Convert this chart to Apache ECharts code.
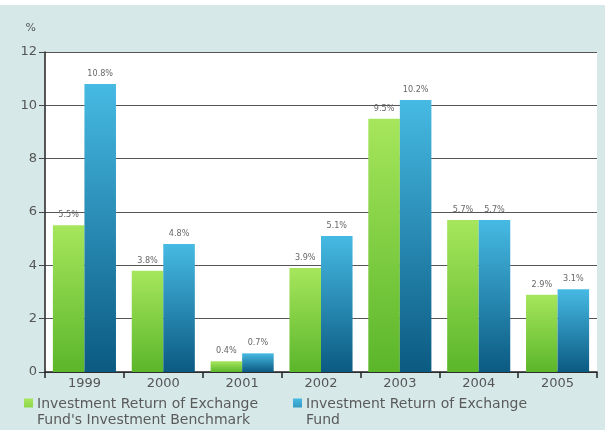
<!DOCTYPE html>
<html><head><meta charset="utf-8">
<script src="https://cdn.jsdelivr.net/npm/echarts@6/dist/echarts.min.js"></script>
<style>html,body{margin:0;padding:0;background:#d6e9e8;}#c{width:605px;height:430px;}</style>
</head><body><div id="c"></div>
<script>
const categories = ['1999','2000','2001','2002','2003','2004','2005'];
const benchmark = [5.5, 3.8, 0.4, 3.9, 9.5, 5.7, 2.9];
const fund = [10.8, 4.8, 0.7, 5.1, 10.2, 5.7, 3.1];
const benchmarkName = "Investment Return of Exchange\nFund's Investment Benchmark";
const fundName = "Investment Return of Exchange\nFund";

const chart = echarts.init(document.getElementById('c'));
const grad = (a, b) => new echarts.graphic.LinearGradient(0, 0, 0, 1, [{offset:0, color:a},{offset:1, color:b}]);
const labelCfg = {show:true, position:'top', distance:6, color:'#666', fontSize:9, fontFamily:'DejaVu Sans Condensed, Liberation Sans Narrow, sans-serif', formatter: p => p.value + '%'};
const legendIcon = 'path://M0,0L10,0L10,10L0,10Z M0,30';
chart.setOption({
  backgroundColor:'#d6e9e8',
  textStyle:{fontFamily:'DejaVu Sans, sans-serif'},
  graphic:[{type:'rect', shape:{x:0,y:0,width:605,height:5}, style:{fill:'#ffffff'}}],
  grid:{left:45, right:8, top:52, bottom:58, show:true, backgroundColor:'#ffffff', borderWidth:0},
  legend:{
    left:19, top:391, itemWidth:9, itemHeight:27, itemGap:35, symbolKeepAspect:true,
    textStyle:{color:'#5a5a5a', fontSize:14, lineHeight:16, padding:[0,0,0,-1]},
    data:[{name:benchmarkName, icon:legendIcon}, {name:fundName, icon:legendIcon}]
  },
  xAxis:{
    type:'category', data:categories,
    axisLine:{lineStyle:{color:'#222', width:1.5}},
    axisTick:{show:true, length:6, lineStyle:{color:'#222', width:1.5}},
    axisLabel:{color:'#555', fontSize:13, margin:5}
  },
  yAxis:{
    type:'value', min:0, max:12, interval:2,
    name:'%', nameGap:18, nameTextStyle:{color:'#555', fontSize:11, align:'right', padding:[0,9,0,0]},
    axisLine:{show:true, lineStyle:{color:'#222', width:1.5}},
    axisTick:{show:true, length:6, lineStyle:{color:'#444'}},
    axisLabel:{color:'#555', fontSize:13, margin:8},
    splitLine:{lineStyle:{color:'#555', width:1}}
  },
  series:[
    {name:benchmarkName, type:'bar', data:benchmark, barGap:'0%', barCategoryGap:'20%',
     itemStyle:{color:grad('#a6e65c','#5bb62a')}, label:labelCfg},
    {name:fundName, type:'bar', data:fund,
     itemStyle:{color:grad('#46bae3','#0b5a82')}, label:labelCfg}
  ]
});
</script></body></html>
